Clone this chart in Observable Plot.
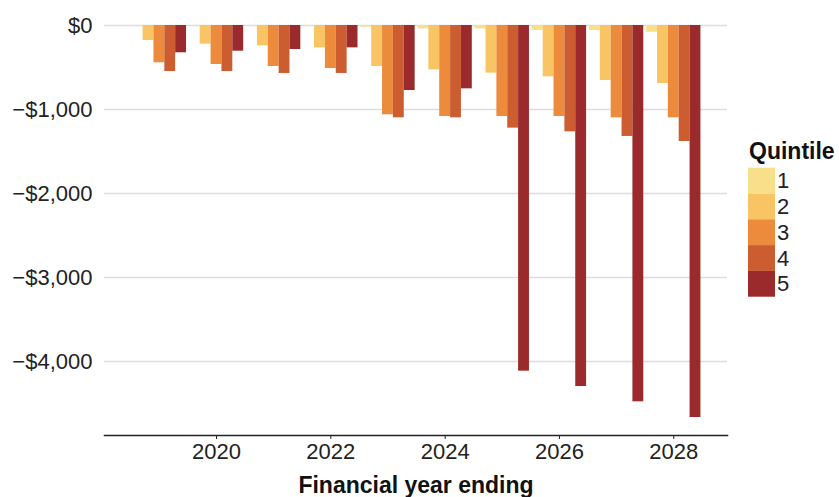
<!DOCTYPE html>
<html>
<head>
<meta charset="utf-8">
<script src="https://cdn.jsdelivr.net/npm/d3@7"></script>
<script src="https://cdn.jsdelivr.net/npm/@observablehq/plot@0.6"></script>
<style>
  html, body { margin: 0; padding: 0; background: #fff; }
  #wrap { position: relative; width: 839px; height: 497px; }
  #legend { position: absolute; left: 0; top: 0; }
</style>
</head>
<body>
<div id="wrap"></div>
<script>
// ---- data ----
const years = [2019, 2020, 2021, 2022, 2023, 2024, 2025, 2026, 2027, 2028];
const quintiles = [1, 2, 3, 4, 5];
const q1 = [0, 0, 0, 0, -20, -40, -40, -60, -60, -80];
const q2 = [-179, -222, -242, -266, -488, -528, -567, -611, -655, -690];
const q3 = [-444, -464, -488, -512, -1063, -1083, -1083, -1083, -1099, -1099];
const q4 = [-548, -548, -571, -571, -1099, -1099, -1222, -1266, -1321, -1381];
const q5 = [-325, -306, -286, -266, -774, -754, -4115, -4298, -4480, -4667];
const yTicks = [0, -1000, -2000, -3000, -4000];
const xTicks = [2020, 2022, 2024, 2026, 2028];
const colors = ["#f8e08a", "#f8c464", "#ec8b3b", "#cc5d31", "#9a2a2c"];
const xTitle = "Financial year ending";
const legendTitle = "Quintile";

const series = [q1, q2, q3, q4, q5];
const data = [];
years.forEach((yr, i) => quintiles.forEach((q, j) => data.push({year: yr, q, value: series[j][i]})));

const barW = 0.19; // share of a year per bar
const font = "'Liberation Sans', Arial, Helvetica, sans-serif";

const chart = Plot.plot({
  width: 839,
  height: 497,
  marginLeft: 104,
  marginRight: 112,
  marginTop: 25,
  marginBottom: 62,
  style: {fontFamily: font, fontSize: "22px", color: "#222", background: "#fff"},
  x: {type: "linear", domain: [2018.04, 2028.94]},
  y: {domain: [-4881, 0]},
  color: {domain: quintiles, range: colors},
  marks: [
    Plot.gridY(yTicks, {stroke: "#dcdcdc", strokeOpacity: 1, strokeWidth: 1.5}),
    Plot.rectY(data, {
      x1: d => d.year + (d.q - 3.5) * barW,
      x2: d => d.year + (d.q - 2.5) * barW,
      y1: 0,
      y2: "value",
      fill: "q"
    }),
    Plot.axisY(yTicks, {tickSize: 0, tickPadding: 12, tickFormat: d3.format("$,"), label: null}),
    Plot.axisX(xTicks, {tickSize: 4, tickPadding: 4, tickFormat: d => String(d), label: null, stroke: "#222"}),
    Plot.frame({anchor: "bottom", stroke: "#222", strokeWidth: 1.5}),
    Plot.text([xTitle], {frameAnchor: "bottom", lineAnchor: "top", dy: 41, fontWeight: "bold", fontSize: 23, fill: "#111"})
  ]
});

const wrap = document.getElementById("wrap");
wrap.appendChild(chart);

// ---- legend ----
const lg = d3.select(wrap).append("svg")
  .attr("id", "legend")
  .attr("width", 839).attr("height", 497)
  .style("font-family", font);
lg.append("text").attr("x", 749).attr("y", 159)
  .attr("font-weight", "bold").attr("font-size", 23).attr("fill", "#111")
  .text(legendTitle);
const sw = 25.8;
quintiles.forEach((q, i) => {
  lg.append("rect").attr("x", 748).attr("y", 167.7 + i * sw)
    .attr("width", 27).attr("height", sw).attr("fill", colors[i]);
  lg.append("text").attr("x", 777).attr("y", 167.7 + i * sw + sw / 2 + 7.5)
    .attr("font-size", 22).attr("fill", "#222").text(String(q));
});
</script>
</body>
</html>
